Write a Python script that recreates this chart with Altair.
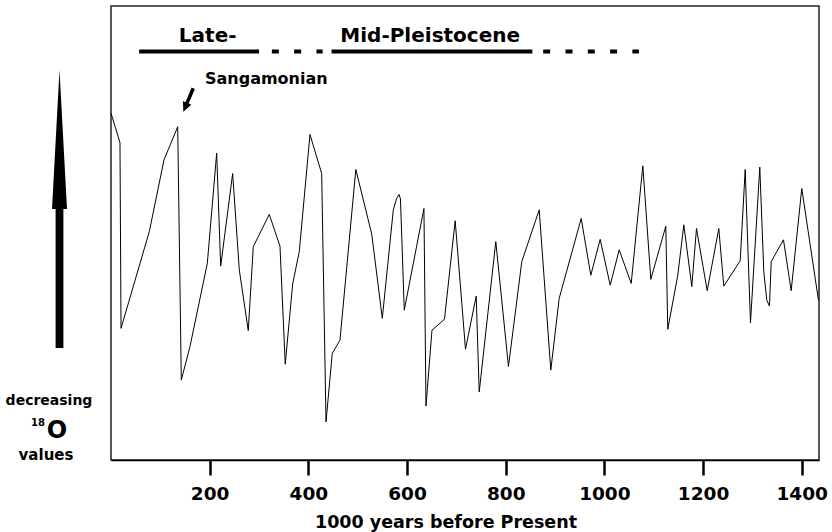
import altair as alt
import pandas as pd

# ---- data (age in 1000 yr BP, relative d18O index) ----
ages = [0, 18.2, 20.3, 77.6, 107.4, 135.2, 142.5, 160.1, 195.2, 214.2,
        222.3, 246.6, 260.0, 278.2, 288.4, 320.8, 342.5, 353.2, 368.2, 381.6,
        403.3, 427.0, 435.8, 448.5, 464.1, 496.2, 528.4, 549.9, 572.2, 578.6,
        583.7, 586.7, 594.4, 634.3, 638.4, 650.6, 675.9, 697.6, 718.5, 740.2,
        746.3, 779.9, 805.6, 832.6, 867.9, 891.4, 908.4, 953.0, 972.5, 991.5,
        1011.8, 1030.0, 1054.4, 1077.9, 1094.1, 1124.5, 1128.5, 1148.8, 1161.0, 1177.2,
        1186.7, 1208.4, 1231.9, 1242.0, 1275.3, 1285.4, 1296.1, 1315.0, 1323.1, 1329.2,
        1334.6, 1338.1, 1363.0, 1378.6, 1400.1, 1433.9]
o18 = [76.4, 69.9, 29.0, 50.3, 66.1, 73.4, 17.6, 25.0, 43.3, 67.6,
       42.7, 63.1, 41.9, 28.5, 47.0, 54.1, 47.1, 21.1, 38.8, 45.9,
       71.7, 63.1, 8.4, 23.5, 26.4, 64.0, 49.8, 31.2, 55.1, 57.5,
       58.5, 57.5, 33.0, 55.4, 11.9, 28.6, 31.0, 52.7, 24.4, 36.1,
       15.0, 48.1, 20.6, 43.7, 55.1, 19.8, 35.6, 53.2, 40.7, 48.6,
       38.5, 46.3, 38.9, 64.8, 39.8, 51.5, 28.8, 40.7, 51.8, 38.2,
       51.0, 37.3, 51.0, 38.3, 43.9, 64.0, 30.2, 64.5, 41.5, 35.2,
       33.9, 43.7, 48.5, 37.3, 59.8, 35.2]

tick_values = [200, 400, 600, 800, 1000, 1200, 1400]

# period bar segments
seg_start = [57, 447]
seg_end = [300, 854]
dash_start = [326, 876]
dash_end = [429, 1070]
bar_level = [90, 90]

# labels
label_text = ["Late-", "Mid-Pleistocene"]
label_age = [196, 647]
label_level = [92.1, 92.1]

sang_text = ["Sangamonian"]
sang_age = [190.5]
sang_level = [82.8]
sang_arrow_age = [156.7]
sang_arrow_level = [79.3]

df = pd.DataFrame({"age": ages, "value": o18})
solid_df = pd.DataFrame({"age": seg_start, "age2": seg_end, "value": bar_level})
dash_df = pd.DataFrame({"age": dash_start, "age2": dash_end, "value": bar_level})
lab_df = pd.DataFrame({"age": label_age, "value": label_level, "t": label_text})
sang_df = pd.DataFrame({"age": sang_age, "value": sang_level, "t": sang_text})
sarrow_df = pd.DataFrame({"age": sang_arrow_age, "value": sang_arrow_level})
one = pd.DataFrame({"k": [0]})

FONT = "DejaVu Sans"

X = alt.X("age:Q",
          scale=alt.Scale(domain=[0, 1435], nice=False, zero=False),
          axis=alt.Axis(values=tick_values, title="1000 years before Present",
                        grid=False, format="d"))
Xn = alt.X("age:Q", scale=alt.Scale(domain=[0, 1435], nice=False, zero=False))
Y = alt.Y("value:Q", scale=alt.Scale(domain=[0, 100], nice=False, zero=False), axis=None)

line = alt.Chart(df).mark_line(color="black", strokeWidth=1).encode(x=X, y=Y)

solid = alt.Chart(solid_df).mark_rule(color="black", strokeWidth=4, strokeCap="butt").encode(
    x=Xn, x2="age2:Q", y=Y)
dashed = alt.Chart(dash_df).mark_rule(color="black", strokeWidth=4, strokeCap="butt",
                                      strokeDash=[7, 15.3]).encode(x=Xn, x2="age2:Q", y=Y)

labels = alt.Chart(lab_df).mark_text(font=FONT, fontWeight="bold", fontSize=20,
                                     align="center", baseline="alphabetic",
                                     color="black").encode(x=Xn, y=Y, text="t:N")
sang = alt.Chart(sang_df).mark_text(font=FONT, fontWeight="bold", fontSize=16,
                                    align="left", baseline="alphabetic",
                                    color="black").encode(x=Xn, y=Y, text="t:N")

small_arrow_path = "M-0.14,-1L0.14,-1L0.14,0.25L0.36,0.25L0,1L-0.36,0.25L-0.14,0.25Z"
sarrow = alt.Chart(sarrow_df).mark_point(shape=small_arrow_path, filled=True, color="black",
                                         opacity=1, size=645, angle=23,
                                         strokeWidth=0).encode(x=Xn, y=Y)

big_arrow_path = "M0,-1L0.054,0L0.028,0L0.028,1L-0.028,1L-0.028,0L-0.054,0Z"
barrow = alt.Chart(one).mark_point(shape=big_arrow_path, filled=True, color="black",
                                   opacity=1, size=77284, strokeWidth=0).encode(
    x=alt.value(-51.5), y=alt.value(203))

def side_text(txt, x, y, size):
    return alt.Chart(one).mark_text(text=txt, font=FONT, fontWeight="bold", fontSize=size,
                                    align="center", baseline="alphabetic",
                                    color="black").encode(x=alt.value(x), y=alt.value(y))

t1 = side_text("decreasing", -62, 399, 14)
t2 = side_text("18", -73, 419.5, 10)
t3 = side_text("O", -54, 432, 24)
t4 = side_text("values", -65, 454, 15)

chart = alt.layer(line, solid, dashed, labels, sang, sarrow, barrow, t1, t2, t3, t4).properties(
    width=708, height=454,
    autosize=alt.AutoSizeParams(type="none"),
    padding={"left": 111, "top": 6, "right": 13, "bottom": 72},
).configure_view(
    stroke="#222", strokeWidth=1.5
).configure_axis(
    domainColor="black", domainWidth=1.5,
    tickColor="black", tickWidth=2.5, tickSize=15,
    labelFont=FONT, labelFontWeight="bold", labelFontSize=18.5, labelColor="black",
    labelPadding=9,
    titleFont=FONT, titleFontWeight="bold", titleFontSize=17.5, titleColor="black",
).configure_axisX(
    titleX=334.5, titleY=67, titleBaseline="alphabetic", titleAlign="center"
)

chart.save("out.html", embed_options={"renderer": "svg", "actions": False})
